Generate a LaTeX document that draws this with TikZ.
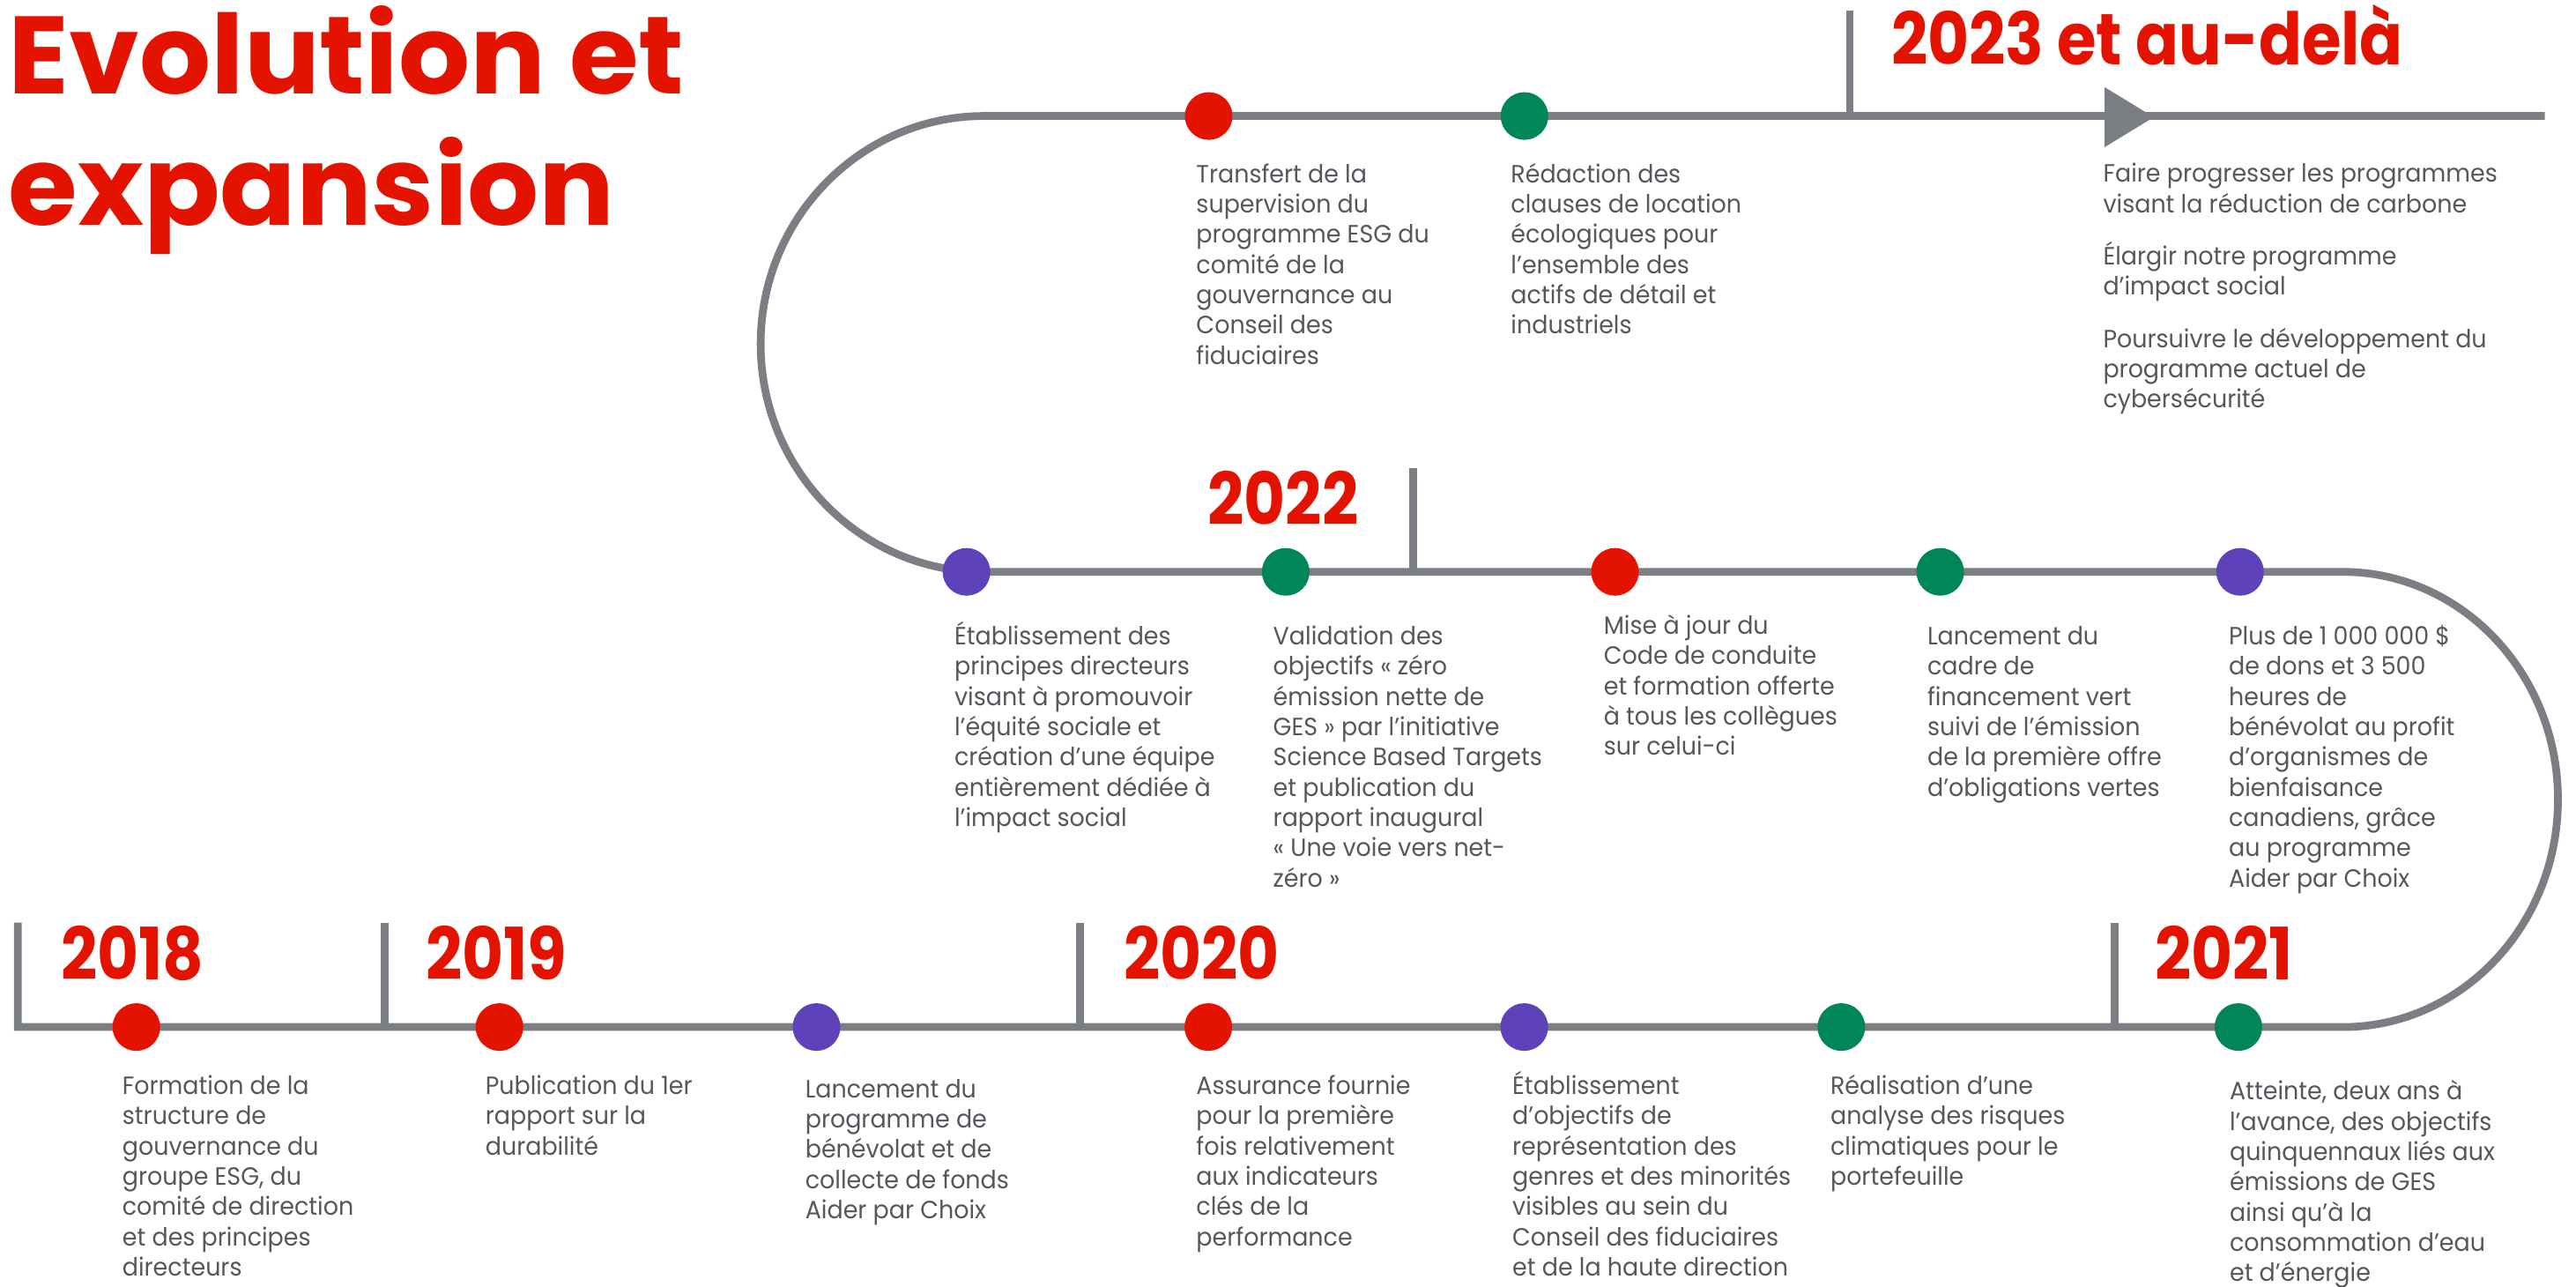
\documentclass[tikz,border=0pt]{standalone}
\usepackage{fontspec}
\setmainfont{Poppins}
\newfontfamily\bodyf{Poppins}[FakeStretch=0.95]
\newfontfamily\yearf{Poppins}[FakeStretch=0.88]
\newfontfamily\titlef{Poppins}[FakeStretch=1.02]
\definecolor{tlred}{RGB}{228,19,0}
\definecolor{tlgreen}{RGB}{0,134,89}
\definecolor{tlpurple}{RGB}{94,66,186}
\definecolor{tlgray}{RGB}{123,126,131}
\definecolor{txtgray}{RGB}{85,87,92}
\tikzset{
  track/.style={draw=tlgray, line width=4.7pt},
  dot/.style={circle, minimum size=29pt, inner sep=0pt, draw=none},
  desc/.style={anchor=base west, inner sep=0pt, text=txtgray, font=\bodyf\fontsize{15.2}{18.4}\selectfont},
  yearlbl/.style={anchor=base west, inner sep=0pt, text=tlred, font=\yearf\bfseries\fontsize{44}{50}\selectfont},
  titlelbl/.style={anchor=base west, inner sep=0pt, text=tlred, font=\titlef\bfseries\fontsize{67}{80.1}\selectfont},
}
\newcommand{\desctext}[1]{\parbox[t]{320pt}{#1}}
\begin{document}
\begin{tikzpicture}[x=1pt, y=-1pt]
\useasboundingbox (0,0) rectangle (1568,783);
% track coordinates
\coordinate (tk18) at (10.8,561.5);
\coordinate (bstart) at (10.8,625);
\coordinate (bend) at (1426,625);
\coordinate (rmid) at (1557,486.5);
\coordinate (mright) at (1426,348);
\coordinate (mleft) at (599,348);
\coordinate (lmid) at (463,209.3);
\coordinate (tleft) at (599,70.6);
\coordinate (tend) at (1549,70.6);
\draw[track, line join=miter] (tk18) -- (bstart) -- (bend)
  .. controls (1498.35,625) and (1557,562.99) .. (rmid)
  .. controls (1557,410.01) and (1498.35,348) .. (mright)
  -- (mleft)
  .. controls (523.89,348) and (463,285.9) .. (lmid)
  .. controls (463,132.7) and (523.89,70.6) .. (tleft)
  -- (tend);
% year ticks
\coordinate (tk19a) at (234,561.5);   \coordinate (tk19b) at (234,625);
\coordinate (tk20a) at (657.3,561.5); \coordinate (tk20b) at (657.3,625);
\coordinate (tk21a) at (1287,561.5);  \coordinate (tk21b) at (1287,625);
\coordinate (tk22a) at (860,285);     \coordinate (tk22b) at (860,348);
\coordinate (tk23a) at (1126,6.3);    \coordinate (tk23b) at (1126,70.6);
\draw[track] (tk19a) -- (tk19b);
\draw[track] (tk20a) -- (tk20b);
\draw[track] (tk21a) -- (tk21b);
\draw[track] (tk22a) -- (tk22b);
\draw[track] (tk23a) -- (tk23b);
% arrow head
\fill[tlgray] (1281,53) -- (1311,71.3) -- (1281,89.6) -- cycle;
% dots bottom row
\node[dot, fill=tlred]    (d1) at (83,625) {};
\node[dot, fill=tlred]    (d2) at (304,625) {};
\node[dot, fill=tlpurple] (d3) at (497,625) {};
\node[dot, fill=tlred]    (d4) at (735.5,625) {};
\node[dot, fill=tlpurple] (d5) at (927.8,625) {};
\node[dot, fill=tlgreen]  (d6) at (1120.8,625) {};
\node[dot, fill=tlgreen]  (d7) at (1362.5,625) {};
% dots middle row
\node[dot, fill=tlpurple] (d8) at (588.3,348) {};
\node[dot, fill=tlgreen]  (d9) at (782.6,348) {};
\node[dot, fill=tlred]    (d10) at (983,348) {};
\node[dot, fill=tlgreen]  (d11) at (1181,348) {};
\node[dot, fill=tlpurple] (d12) at (1363.5,348) {};
% dots top row
\node[dot, fill=tlred]    (d13) at (735.7,70.6) {};
\node[dot, fill=tlgreen]  (d14) at (927.9,70.6) {};
% title
\node[titlelbl] (title) at (5,56.9) {\parbox[t]{600pt}{Evolution et\\expansion}};
% years
\node[yearlbl] (y18) at (37,596.4) {2018};
\node[yearlbl] (y19) at (259,596.4) {2019};
\node[yearlbl] (y20) at (684,596.4) {2020};
\node[yearlbl] (y21) at (1311.5,596.4) {2021};
\node[yearlbl] (y22) at (735,319.2) {2022};
\node[yearlbl] (y23) at (1151,39.7) {2023 et au-delà};
% descriptions bottom row
\node[desc] (t1) at (74.3,666) {\desctext{Formation de la\\structure de\\gouvernance du\\groupe ESG, du\\comité de direction\\et des principes\\directeurs}};
\node[desc] (t2) at (295.3,666) {\desctext{Publication du 1er\\rapport sur la\\durabilité}};
\node[desc] (t3) at (490,668) {\desctext{Lancement du\\programme de\\bénévolat et de\\collecte de fonds\\Aider par Choix}};
\node[desc] (t4) at (728,666) {\desctext{Assurance fournie\\pour la première\\fois relativement\\aux indicateurs\\clés de la\\performance}};
\node[desc] (t5) at (920.4,666) {\desctext{Établissement\\d’objectifs de\\représentation des\\genres et des minorités\\visibles au sein du\\Conseil des fiduciaires\\et de la haute direction}};
\node[desc] (t6) at (1114,666) {\desctext{Réalisation d’une\\analyse des risques\\climatiques pour le\\portefeuille}};
\node[desc] (t7) at (1357,669.4) {\desctext{Atteinte, deux ans à\\l’avance, des objectifs\\quinquennaux liés aux\\émissions de GES\\ainsi qu’à la\\consommation d’eau\\et d’énergie}};
% descriptions middle row
\node[desc] (t8) at (580.8,392.5) {\desctext{Établissement des\\principes directeurs\\visant à promouvoir\\l’équité sociale et\\création d’une équipe\\entièrement dédiée à\\l’impact social}};
\node[desc] (t9) at (774.8,392.5) {\desctext{Validation des\\objectifs « zéro\\émission nette de\\GES » par l’initiative\\Science Based Targets\\et publication du\\rapport inaugural\\« Une voie vers net-\\zéro »}};
\node[desc] (t10) at (976,386) {\desctext{Mise à jour du\\Code de conduite\\et formation offerte\\à tous les collègues\\sur celui-ci}};
\node[desc] (t11) at (1173,392.5) {\desctext{Lancement du\\cadre de\\financement vert\\suivi de l’émission\\de la première offre\\d’obligations vertes}};
\node[desc] (t12) at (1356.5,392.5) {\desctext{Plus de 1 000 000 \$\\de dons et 3 500\\heures de\\bénévolat au profit\\d’organismes de\\bienfaisance\\canadiens, grâce\\au programme\\Aider par Choix}};
% descriptions top row
\node[desc] (t13) at (728,111.2) {\desctext{Transfert de la\\supervision du\\programme ESG du\\comité de la\\gouvernance au\\Conseil des\\fiduciaires}};
\node[desc] (t14) at (919.5,111.2) {\desctext{Rédaction des\\clauses de location\\écologiques pour\\l’ensemble des\\actifs de détail et\\industriels}};
\node[desc] (t15) at (1280,110.9) {\desctext{Faire progresser les programmes\\visant la réduction de carbone\\[13.5pt]Élargir notre programme\\d’impact social\\[13.5pt]Poursuivre le développement du\\programme actuel de\\cybersécurité}};
\end{tikzpicture}
\end{document}
